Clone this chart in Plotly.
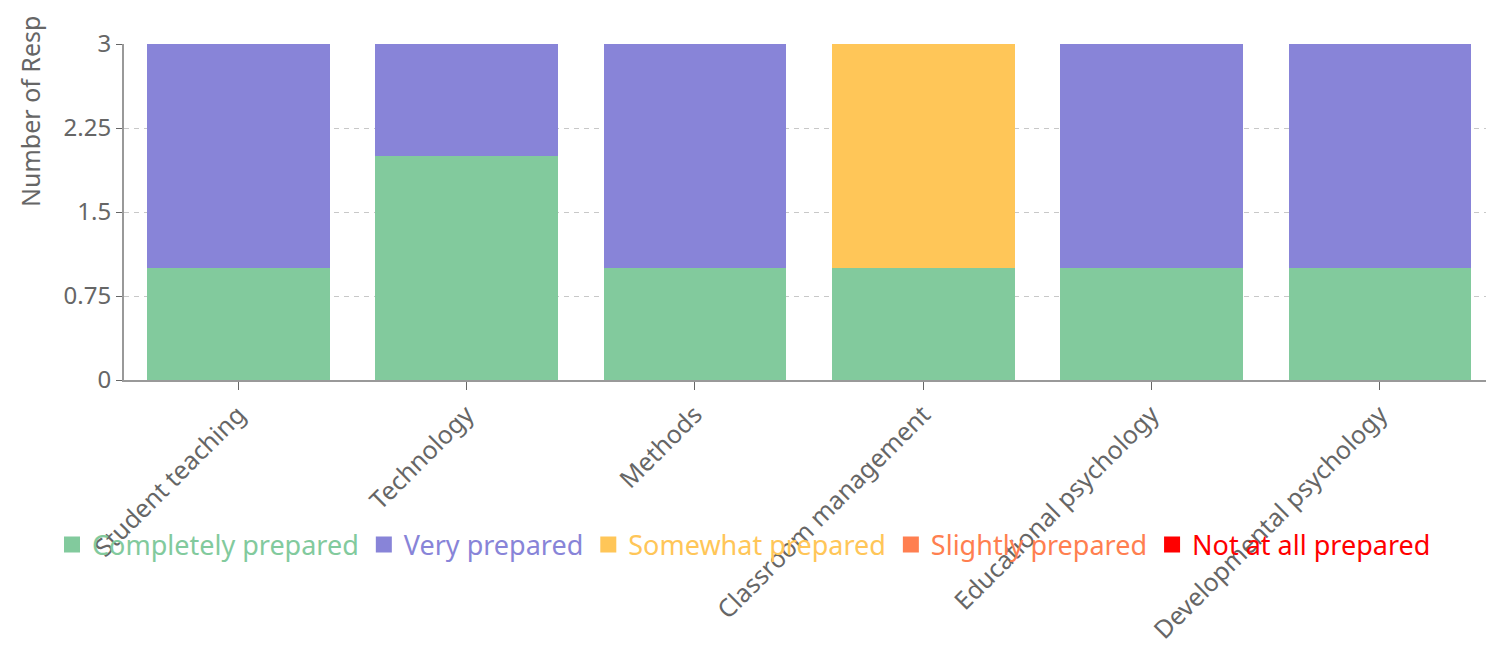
import plotly.graph_objects as go

categories = ["Student teaching", "Technology", "Methods", "Classroom management",
              "Educational psychology", "Developmental psychology"]
completely = [1, 2, 1, 1, 1, 1]
very = [2, 1, 2, 0, 2, 2]
somewhat = [0, 0, 0, 2, 0, 0]
slightly = [0, 0, 0, 0, 0, 0]
not_at_all = [0, 0, 0, 0, 0, 0]

series = [
    ("Completely prepared", completely, "#82ca9d"),
    ("Very prepared", very, "#8884d8"),
    ("Somewhat prepared", somewhat, "#ffc658"),
    ("Slightly prepared", slightly, "#ff7f50"),
    ("Not at all prepared", not_at_all, "#ff0000"),
]
yticks = [0, 0.75, 1.5, 2.25, 3]
yticklabels = ["0", "0.75", "1.5", "2.25", "3"]

FONT = "Noto Sans, Open Sans, sans-serif"
fig = go.Figure()
for name, vals, color in series:
    fig.add_trace(go.Bar(
        x=categories, y=vals, name=name, showlegend=False,
        marker=dict(color=color, line=dict(width=0)),
    ))
# legend entries with larger square swatches
for name, vals, color in series:
    fig.add_trace(go.Scatter(
        x=[None], y=[None], mode="markers",
        name=f"<span style='color:{color}'>{name}</span>",
        marker=dict(symbol="square", size=20, color=color),
    ))

# page body has an 8px margin
OFF = 8
W, H = 1494 - OFF, 648 - OFF
L, R, T = 124 - OFF, 0, 44 - OFF
B = H - (380 - OFF)
pw, ph = W - L - R, H - T - B

def py(page_y):
    return (ph - (page_y - 44)) / ph

def px(page_x):
    return (page_x - 124) / pw

fig.update_layout(
    barmode="stack",
    bargap=0.2,
    width=W, height=H,
    margin=dict(l=L, r=R, t=T, b=B, autoexpand=False),
    plot_bgcolor="white", paper_bgcolor="white",
    font=dict(family=FONT, size=24, color="#666"),
    showlegend=True,
    legend=dict(orientation="h", x=px(52), xanchor="left",
                y=py(545), yanchor="middle",
                font=dict(size=27), traceorder="normal", itemwidth=30,
                bgcolor="rgba(0,0,0,0)"),
    xaxis=dict(showline=True, linecolor="#999", linewidth=2, ticks="outside",
               tickcolor="#666", ticklen=8, tickangle=-45, showgrid=False,
               automargin=False, tickfont=dict(size=25, color="#666")),
    yaxis=dict(range=[0, 3], tickvals=yticks, ticktext=yticklabels,
               showline=True, linecolor="#999", linewidth=2, ticks="outside",
               tickcolor="#666", ticklen=6, showgrid=True, gridcolor="#c8c8c8",
               griddash="5px,5px", gridwidth=1, zeroline=False, automargin=False,
               tickfont=dict(size=24, color="#666")),
    annotations=[dict(text="Number of Resp", xref="paper", yref="paper",
                      x=px(30), y=py(112),
                      xanchor="center", yanchor="middle",
                      showarrow=False, textangle=-90,
                      font=dict(size=25, color="#666"))],
)

fig.write_html("out.html")
